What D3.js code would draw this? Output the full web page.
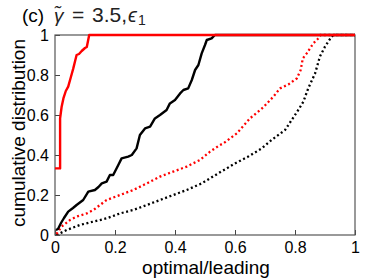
<!DOCTYPE html>
<html>
<head>
<meta charset="utf-8">
<script src="https://cdn.jsdelivr.net/npm/d3@7.9.0/dist/d3.min.js"></script>
<style>
  body { margin: 0; background: #fff; }
  svg { display: block; }
  text { font-family: "Liberation Sans", Arial, sans-serif; }
</style>
</head>
<body>
<svg id="chart" width="374" height="280"></svg>
<script>
// Data (x = optimal/leading, y = cumulative distribution)
const redSolidX = [0, 0.008, 0.017, 0.017, 0.022, 0.028, 0.036, 0.044, 0.053, 0.061, 0.067, 0.072, 0.08, 0.089, 0.1, 0.106, 0.114, 1];
const redSolidY = [0.333, 0.333, 0.333, 0.583, 0.64, 0.683, 0.72, 0.742, 0.79, 0.833, 0.87, 0.9, 0.905, 0.92, 0.935, 0.94, 1, 1];

const blackSolidX = [0.003, 0.01, 0.02, 0.03, 0.044, 0.06, 0.072, 0.094, 0.111, 0.133, 0.145, 0.156, 0.172, 0.183, 0.194, 0.211, 0.222, 0.244, 0.256, 0.272, 0.283, 0.3, 0.317, 0.333, 0.35, 0.372, 0.383, 0.4, 0.417, 0.428, 0.444, 0.456, 0.467, 0.478, 0.489, 0.5, 0.506, 0.522, 0.533, 1];
const blackSolidY = [0.025, 0.03, 0.06, 0.085, 0.117, 0.135, 0.15, 0.175, 0.217, 0.225, 0.24, 0.258, 0.267, 0.3, 0.3, 0.35, 0.383, 0.392, 0.4, 0.433, 0.5, 0.533, 0.542, 0.583, 0.6, 0.625, 0.658, 0.675, 0.708, 0.725, 0.733, 0.775, 0.825, 0.85, 0.908, 0.95, 0.975, 0.983, 1, 1];

const redDotX = [0.005, 0.022, 0.05, 0.072, 0.106, 0.128, 0.15, 0.172, 0.217, 0.261, 0.306, 0.35, 0.394, 0.439, 0.483, 0.517, 0.55, 0.561, 0.606, 0.65, 0.694, 0.728, 0.75, 0.778, 0.806, 0.819, 0.826, 0.839, 0.861, 0.878, 0.885, 1];
const redDotY = [0.005, 0.042, 0.075, 0.092, 0.108, 0.125, 0.15, 0.175, 0.2, 0.225, 0.258, 0.292, 0.317, 0.342, 0.375, 0.417, 0.45, 0.458, 0.508, 0.583, 0.638, 0.692, 0.733, 0.753, 0.783, 0.825, 0.883, 0.908, 0.958, 0.983, 1, 1];

const blackDotX = [0.005, 0.039, 0.083, 0.128, 0.172, 0.217, 0.261, 0.306, 0.35, 0.394, 0.439, 0.489, 0.544, 0.6, 0.644, 0.689, 0.722, 0.767, 0.789, 0.811, 0.828, 0.844, 0.867, 0.883, 0.9, 0.922, 0.928, 1];
const blackDotY = [0.0, 0.025, 0.05, 0.067, 0.083, 0.108, 0.125, 0.15, 0.175, 0.2, 0.225, 0.258, 0.308, 0.358, 0.392, 0.433, 0.475, 0.525, 0.575, 0.625, 0.667, 0.733, 0.808, 0.892, 0.942, 0.992, 1, 1];

const xTicks = [0, 0.2, 0.4, 0.6, 0.8, 1];
const yTicks = [0, 0.2, 0.4, 0.6, 0.8, 1];

const svg = d3.select('#chart');
const mLeft = 55, mRight = 355, mTop = 35, mBottom = 235;

const x = d3.scaleLinear().domain([0, 1]).range([mLeft, mRight]);
const y = d3.scaleLinear().domain([0, 1]).range([mBottom, mTop]);

// Axes with inward ticks
const fmt = d => d === 0 ? '0' : d === 1 ? '1' : d3.format('.1f')(d);

const xAxis = svg.append('g')
  .attr('transform', `translate(0,${mBottom})`)
  .call(d3.axisBottom(x).tickValues(xTicks).tickFormat(fmt).tickSizeInner(-5).tickSizeOuter(0).tickPadding(7));
const yAxis = svg.append('g')
  .attr('transform', `translate(${mLeft},0)`)
  .call(d3.axisLeft(y).tickValues(yTicks).tickFormat(fmt).tickSizeInner(-5).tickSizeOuter(0).tickPadding(6));

[xAxis, yAxis].forEach(g => {
  g.select('.domain').remove();
  g.selectAll('line').attr('stroke', '#444');
  g.selectAll('text').attr('font-size', 16).attr('fill', '#000')
    .attr('font-family', '"Liberation Sans", Arial, sans-serif');
});

// Frame
svg.append('rect')
  .attr('x', mLeft).attr('y', mTop)
  .attr('width', mRight - mLeft).attr('height', mBottom - mTop)
  .attr('fill', 'none').attr('stroke', '#555').attr('stroke-width', 1.2);

const line = d3.line().x(d => x(d[0])).y(d => y(d[1]));
const zip = (a, b) => a.map((v, i) => [v, b[i]]);

// Clip the curves to the plot area
svg.append('clipPath').attr('id', 'clip').append('rect')
  .attr('x', mLeft).attr('y', mTop - 2).attr('width', mRight - mLeft).attr('height', mBottom - mTop + 2);
const plot = svg.append('g').attr('clip-path', 'url(#clip)');

plot.append('path').attr('d', line(zip(blackDotX, blackDotY)))
  .attr('fill', 'none').attr('stroke', '#000').attr('stroke-width', 2.3)
  .attr('stroke-dasharray', '2,2.6');
plot.append('path').attr('d', line(zip(redDotX, redDotY)))
  .attr('fill', 'none').attr('stroke', '#ff0000').attr('stroke-width', 2.3)
  .attr('stroke-dasharray', '2,2.6');
plot.append('path').attr('d', line(zip(blackSolidX, blackSolidY)))
  .attr('fill', 'none').attr('stroke', '#000').attr('stroke-width', 2.4)
  .attr('stroke-linejoin', 'round');
plot.append('path').attr('d', line(zip(redSolidX, redSolidY)))
  .attr('fill', 'none').attr('stroke', '#ff0000').attr('stroke-width', 2.4)
  .attr('stroke-linejoin', 'round');

// Axis labels
svg.append('text')
  .attr('x', 206).attr('y', 274)
  .attr('text-anchor', 'middle').attr('font-size', 19)
  .text('optimal/leading');
svg.append('text')
  .attr('transform', `translate(25,133) rotate(-90)`)
  .attr('text-anchor', 'middle').attr('font-size', 19)
  .text('cumulative distribution');

// Title: "(c)" in sans, the maths part in a serif face
svg.append('text').attr('x', 22).attr('y', 22).attr('font-size', 19).text('(c)');
const serif = '"DejaVu Serif", "Liberation Serif", serif';
svg.append('text').attr('x', 54).attr('y', 22).attr('font-size', 19)
  .attr('font-family', serif).attr('font-style', 'italic').attr('fill', '#222')
  .text('\u03B3\u0303');
svg.append('text').attr('x', 72).attr('y', 22).attr('font-size', 21)
  .attr('font-family', '"Liberation Serif", serif').attr('fill', '#222')
  .text('=');
svg.append('text').attr('x', 92).attr('y', 22).attr('font-size', 21)
  .attr('font-family', '"Liberation Serif", serif').attr('fill', '#222')
  .text('3.5,');
svg.append('text').attr('x', 128).attr('y', 22).attr('font-size', 20)
  .attr('font-family', serif).attr('font-style', 'italic').attr('fill', '#222')
  .text('\u03F5');
svg.append('text').attr('x', 138).attr('y', 25).attr('font-size', 14)
  .attr('font-family', '"Liberation Serif", serif').attr('fill', '#222')
  .text('1');
</script>
</body>
</html>
